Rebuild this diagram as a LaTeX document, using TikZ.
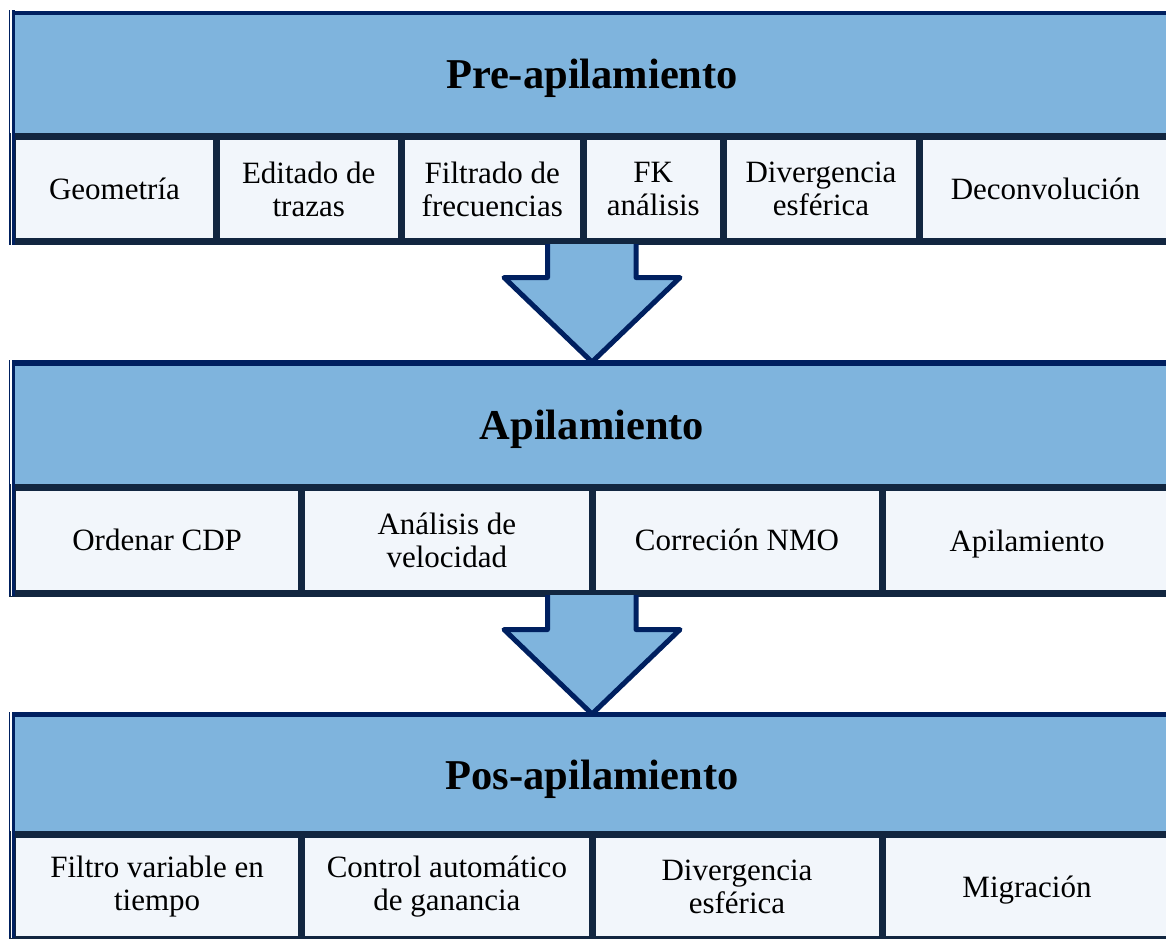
\documentclass[tikz,border=0pt]{standalone}
\usepackage{fontspec}
\setmainfont{Liberation Serif}
\definecolor{hblue}{RGB}{127,180,221}
\definecolor{cfill}{RGB}{242,246,251}
\definecolor{band}{RGB}{18,38,64}
\definecolor{navy}{RGB}{0,32,96}
\begin{document}
\begin{tikzpicture}[x=1pt,y=-1pt,
  headbox/.style={rectangle,fill=hblue,inner sep=0pt,minimum width=1160pt,text depth=0pt,
    font=\fontsize{42.5}{48}\selectfont\bfseries},
  cellbox/.style={rectangle,draw=band,line width=7pt,fill=cfill,inner sep=0pt,
    align=center,font=\fontsize{31}{33}\selectfont},
  topline/.style={draw=navy},
  blockarrow/.style={draw=navy,line width=5pt,line join=round,fill=hblue}]
\useasboundingbox (0,0) rectangle (1166,938);
\clip (0,0) rectangle (1166,938);

% ---------- Panel 1 ----------
\node[headbox,minimum height=124.5pt] (p1h) at (592,74.25) {Pre-apilamiento};
\node[cellbox,minimum width=204pt,minimum height=105pt] (p1c1) at (114.5,189) {Geometría};
\node[cellbox,minimum width=184.5pt,minimum height=105pt] (p1c2) at (308.75,189) {Editado de\\trazas};
\node[cellbox,minimum width=182.5pt,minimum height=105pt] (p1c3) at (492.25,189) {Filtrado de\\frecuencias};
\node[cellbox,minimum width=139.5pt,minimum height=105pt] (p1c4) at (653.25,189) {FK\\análisis};
\node[cellbox,minimum width=196pt,minimum height=105pt] (p1c5) at (821,189) {Divergencia\\esférica};
\node[cellbox,minimum width=253pt,minimum height=105pt] (p1c6) at (1045.5,189) {Deconvolución};
\draw[topline,line width=4pt] (12,12.5) -- (1172,12.5);

% ---------- Panel 2 ----------
\node[headbox,minimum height=125.5pt] (p2h) at (592,424.75) {Apilamiento};
\node[cellbox,minimum width=289.2pt,minimum height=105.5pt] (p2c1) at (157.1,540.25) {Ordenar CDP};
\node[cellbox,minimum width=290.3pt,minimum height=105.5pt] (p2c2) at (446.85,540.25) {Análisis de\\velocidad};
\node[cellbox,minimum width=290pt,minimum height=105.5pt] (p2c3) at (737,540.25) {Correción NMO};
\node[cellbox,minimum width=290pt,minimum height=105.5pt,text depth=0pt] (p2c4) at (1027,540.25) {Apilamiento};
\draw[topline,line width=6pt] (12,363) -- (1172,363);

% ---------- Panel 3 ----------
\node[headbox,minimum height=119.5pt] (p3h) at (592,774.25) {Pos-apilamiento};
\node[cellbox,minimum width=289.2pt,minimum height=105pt] (p3c1) at (157.1,886.5) {Filtro variable en\\tiempo};
\node[cellbox,minimum width=290.3pt,minimum height=105pt] (p3c2) at (446.85,886.5) {Control automático\\de ganancia};
\node[cellbox,minimum width=290pt,minimum height=105pt] (p3c3) at (737,886.5) {Divergencia\\esférica};
\node[cellbox,minimum width=290pt,minimum height=105pt,text depth=0pt] (p3c4) at (1027,886.5) {Migración};
\draw[topline,line width=5pt] (12,714.5) -- (1172,714.5);

% ---------- left double edges ----------
\foreach \ya/\yb in {10/245, 360/596, 712/938}{
  \draw[white,line width=1.4pt] (11.2,\ya) -- (11.2,\yb);
  \draw[navy,line width=1.2pt] (9.8,\ya) -- (9.8,\yb);
  \draw[navy,line width=3pt] (13.5,\ya) -- (13.5,\yb);
}

% ---------- block arrows ----------
\coordinate (a1s) at (592,245);
\coordinate (a1t) at (592,362);
\fill[hblue] (547.5,244) -- (547.5,277.5) -- (504,277.5) -- (a1t) -- (680,277.5) -- (636,277.5) -- (636,244) -- cycle;
\draw[blockarrow,fill=none] (547.5,244) -- (547.5,277.5) -- (504,277.5) -- (a1t) -- (680,277.5) -- (636,277.5) -- (636,244);

\coordinate (a2s) at (592,596);
\coordinate (a2t) at (592,714);
\fill[hblue] (547.5,595) -- (547.5,629.5) -- (504,629.5) -- (a2t) -- (680,629.5) -- (636,629.5) -- (636,595) -- cycle;
\draw[blockarrow,fill=none] (547.5,595) -- (547.5,629.5) -- (504,629.5) -- (a2t) -- (680,629.5) -- (636,629.5) -- (636,595);
\end{tikzpicture}
\end{document}
